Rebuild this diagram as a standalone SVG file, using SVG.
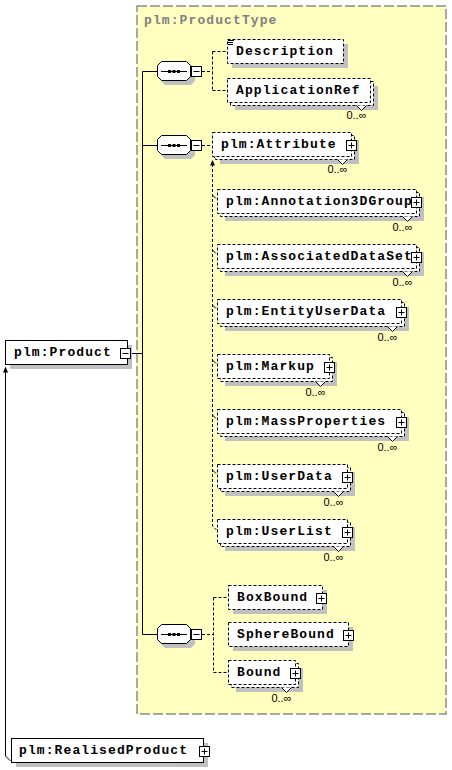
<svg xmlns="http://www.w3.org/2000/svg" xmlns:xlink="http://www.w3.org/1999/xlink" width="452" height="770" viewBox="0 0 452 770">
<style>
.bg{fill:#ffffc0;stroke:#8c8c8c;stroke-width:1.5;stroke-dasharray:10,3}
.title{font-family:"Liberation Mono",monospace;font-weight:bold;font-size:13px;letter-spacing:1.1px;fill:#808080}
.box{fill:#fff;stroke:#000;stroke-width:1;stroke-dasharray:3,2}
.sbox{fill:#fff;stroke:#000;stroke-width:1}
.shadow{fill:#c0c0c0}
.name{font-family:"Liberation Mono",monospace;font-weight:bold;font-size:13px;letter-spacing:1.1px;fill:#000}
.occ{font-family:"Liberation Sans",Arial,sans-serif;font-size:11px;text-anchor:end;fill:#000}
.dash{fill:none;stroke:#000;stroke-width:1;stroke-dasharray:3,2}
.solid{fill:none;stroke:#000;stroke-width:1}
.notch{fill:#fff;stroke:#000;stroke-width:1}
.pm{fill:#fff;stroke:#000;stroke-width:1}
</style>
<defs>
<g id="seq">
<polygon class="shadow" points="8,4 34,4 38,8 38,20 34,24 8,24 4,20 4,8"/>
<polygon class="sbox" points="4.5,0.5 29.5,0.5 33.5,4.5 33.5,15.5 29.5,19.5 4.5,19.5 0.5,15.5 0.5,4.5"/>
<line class="solid" x1="4" y1="10.5" x2="30" y2="10.5"/>
<rect x="11" y="9" width="3" height="3" fill="#000"/>
<rect x="15.5" y="9" width="3" height="3" fill="#000"/>
<rect x="20" y="9" width="3" height="3" fill="#000"/>
<rect class="pm" x="34.5" y="5.5" width="10" height="10"/>
<line class="solid" x1="36.5" y1="10.5" x2="42.5" y2="10.5"/>
</g>
<g id="plus">
<rect class="pm" x="0" y="0" width="10" height="10"/>
<line class="solid" x1="2" y1="5" x2="8" y2="5"/>
<line class="solid" x1="5" y1="2" x2="5" y2="8"/>
</g>
<g id="minus">
<rect class="pm" x="0" y="0" width="10" height="10"/>
<line class="solid" x1="2" y1="5" x2="8" y2="5"/>
</g>
</defs>

<g id="ProductType">
<rect class="bg" x="137" y="6" width="309" height="708"/>
<text class="title" x="144" y="24">plm:ProductType</text>
</g>

<g id="connectors">
<line class="solid" x1="142.5" y1="71.5" x2="142.5" y2="634.5"/>
<line class="solid" x1="131" y1="353.5" x2="142.5" y2="353.5"/>
<line class="solid" x1="142.5" y1="71.5" x2="157" y2="71.5"/>
<line class="solid" x1="142.5" y1="145.5" x2="157" y2="145.5"/>
<line class="solid" x1="142.5" y1="634.5" x2="157" y2="634.5"/>
<path class="dash" d="M202,71.5 H212.5 M212.5,51.5 V90.5 M212.5,51.5 H227 M212.5,90.5 H227"/>
<path class="dash" d="M202,145.5 H212"/>
<path class="dash" d="M202,634.5 H213.5 M213.5,597.5 V672.5 M213.5,597.5 H228 M213.5,672.5 H228"/>
<path class="dash" d="M212.5,164 V526 L216.5,530"/>
<polygon points="212.5,160 210,165.5 215,165.5" fill="#000"/>
<path class="solid" d="M212.5,195 l3.5,3.5 M212.5,250 l3.5,3.5 M212.5,305 l3.5,3.5 M212.5,360 l3.5,3.5 M212.5,415 l3.5,3.5 M212.5,470 l3.5,3.5"/>
<line class="solid" x1="214" y1="158" x2="217" y2="155"/>
<polygon points="219,153 214.5,154.5 217.5,157.5" fill="#000"/>
<path class="solid" d="M10.5,761 L5.5,756 V372"/>
<polygon points="5.5,366.5 3,372.5 8,372.5" fill="#000"/>
</g>

<g id="seq1"><use xlink:href="#seq" x="157" y="61"/></g>
<g id="seq2"><use xlink:href="#seq" x="157" y="135"/></g>
<g id="seq3"><use xlink:href="#seq" x="157" y="624"/></g>

<g id="Product">
<rect class="shadow" x="10" y="345" width="122" height="24"/>
<rect class="sbox" x="5.5" y="340.5" width="122" height="24"/>
<text class="name" x="14" y="356">plm:Product</text>
<use xlink:href="#minus" x="120.5" y="348.5"/>
</g>

<g id="RealisedProduct">
<rect class="shadow" x="16" y="743" width="192" height="24"/>
<rect class="sbox" x="11.5" y="738.5" width="192" height="24"/>
<text class="name" x="19" y="754">plm:RealisedProduct</text>
<use xlink:href="#plus" x="199.5" y="746.5"/>
</g>

<g id="Description">
<rect class="shadow" x="232" y="44" width="116" height="24"/>
<rect class="box" x="227.5" y="39.5" width="116" height="24"/>
<path class="solid" d="M228,40.5 H234 M228,42.5 H233 M228,44.5 H233"/>
<text class="name" x="236" y="55">Description</text>
</g>

<g id="ApplicationRef">
<rect class="shadow" x="235" y="86" width="143" height="24"/>
<rect class="box" x="230.5" y="81.5" width="143" height="24"/>
<rect class="box" x="227.5" y="78.5" width="143" height="24"/>
<polyline class="notch" points="356.5,105.5 361.5,110.5 366.5,105.5"/>
<text class="name" x="236" y="94">ApplicationRef</text>
<text class="occ" x="366.5" y="119">0..∞</text>
</g>

<g id="Attribute">
<rect class="shadow" x="220" y="140" width="139" height="24"/>
<rect class="box" x="215.5" y="135.5" width="139" height="24"/>
<rect class="box" x="212.5" y="132.5" width="139" height="24"/>
<polyline class="notch" points="337.5,159.5 342.5,164.5 347.5,159.5"/>
<text class="name" x="221" y="148">plm:Attribute</text>
<use xlink:href="#plus" x="346.5" y="140.5"/>
<text class="occ" x="347.5" y="173">0..∞</text>
</g>

<g id="Annotation3DGroup">
<rect class="shadow" x="225" y="197" width="199" height="24"/>
<rect class="box" x="220.5" y="192.5" width="199" height="24"/>
<rect class="box" x="217.5" y="189.5" width="199" height="24"/>
<polyline class="notch" points="402.5,216.5 407.5,221.5 412.5,216.5"/>
<text class="name" x="226" y="205">plm:Annotation3DGroup</text>
<use xlink:href="#plus" x="411.5" y="197.5"/>
<text class="occ" x="412.5" y="231">0..∞</text>
</g>

<g id="AssociatedDataSet">
<rect class="shadow" x="225" y="252" width="199" height="24"/>
<rect class="box" x="220.5" y="247.5" width="199" height="24"/>
<rect class="box" x="217.5" y="244.5" width="199" height="24"/>
<polyline class="notch" points="402.5,271.5 407.5,276.5 412.5,271.5"/>
<text class="name" x="226" y="260">plm:AssociatedDataSet</text>
<use xlink:href="#plus" x="411.5" y="252.5"/>
<text class="occ" x="412.5" y="286">0..∞</text>
</g>

<g id="EntityUserData">
<rect class="shadow" x="225" y="307" width="184" height="24"/>
<rect class="box" x="220.5" y="302.5" width="184" height="24"/>
<rect class="box" x="217.5" y="299.5" width="184" height="24"/>
<polyline class="notch" points="387.5,326.5 392.5,331.5 397.5,326.5"/>
<text class="name" x="226" y="315">plm:EntityUserData</text>
<use xlink:href="#plus" x="396.5" y="307.5"/>
<text class="occ" x="397.5" y="341">0..∞</text>
</g>

<g id="Markup">
<rect class="shadow" x="225" y="362" width="112" height="24"/>
<rect class="box" x="220.5" y="357.5" width="112" height="24"/>
<rect class="box" x="217.5" y="354.5" width="112" height="24"/>
<polyline class="notch" points="315.5,381.5 320.5,386.5 325.5,381.5"/>
<text class="name" x="226" y="370">plm:Markup</text>
<use xlink:href="#plus" x="324.5" y="362.5"/>
<text class="occ" x="325.5" y="396">0..∞</text>
</g>

<g id="MassProperties">
<rect class="shadow" x="225" y="417" width="184" height="24"/>
<rect class="box" x="220.5" y="412.5" width="184" height="24"/>
<rect class="box" x="217.5" y="409.5" width="184" height="24"/>
<polyline class="notch" points="387.5,436.5 392.5,441.5 397.5,436.5"/>
<text class="name" x="226" y="425">plm:MassProperties</text>
<use xlink:href="#plus" x="396.5" y="417.5"/>
<text class="occ" x="397.5" y="451">0..∞</text>
</g>

<g id="UserData">
<rect class="shadow" x="225" y="472" width="130" height="24"/>
<rect class="box" x="220.5" y="467.5" width="130" height="24"/>
<rect class="box" x="217.5" y="464.5" width="130" height="24"/>
<polyline class="notch" points="333.5,491.5 338.5,496.5 343.5,491.5"/>
<text class="name" x="226" y="480">plm:UserData</text>
<use xlink:href="#plus" x="342.5" y="472.5"/>
<text class="occ" x="343.5" y="506">0..∞</text>
</g>

<g id="UserList">
<rect class="shadow" x="225" y="527" width="130" height="24"/>
<rect class="box" x="220.5" y="522.5" width="130" height="24"/>
<rect class="box" x="217.5" y="519.5" width="130" height="24"/>
<polyline class="notch" points="333.5,546.5 338.5,551.5 343.5,546.5"/>
<text class="name" x="226" y="535">plm:UserList</text>
<use xlink:href="#plus" x="342.5" y="527.5"/>
<text class="occ" x="343.5" y="561">0..∞</text>
</g>

<g id="BoxBound">
<rect class="shadow" x="233" y="590" width="94" height="24"/>
<rect class="box" x="228.5" y="585.5" width="94" height="24"/>
<text class="name" x="237" y="601">BoxBound</text>
<use xlink:href="#plus" x="316.5" y="593.5"/>
</g>

<g id="SphereBound">
<rect class="shadow" x="233" y="627" width="120" height="24"/>
<rect class="box" x="228.5" y="622.5" width="120" height="24"/>
<text class="name" x="237" y="638">SphereBound</text>
<use xlink:href="#plus" x="343.5" y="630.5"/>
</g>

<g id="Bound">
<rect class="shadow" x="236" y="668" width="67" height="24"/>
<rect class="box" x="231.5" y="663.5" width="67" height="24"/>
<rect class="box" x="228.5" y="660.5" width="67" height="24"/>
<polyline class="notch" points="281.5,687.5 286.5,692.5 291.5,687.5"/>
<text class="name" x="237" y="676">Bound</text>
<use xlink:href="#plus" x="290.5" y="668.5"/>
<text class="occ" x="291.5" y="702">0..∞</text>
</g>
</svg>
